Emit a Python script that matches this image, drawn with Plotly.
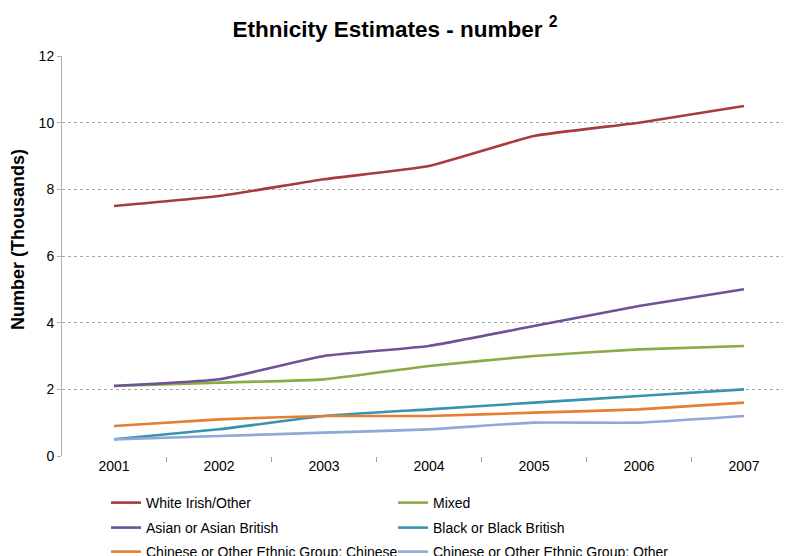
import plotly.graph_objects as go

years = ["2001", "2002", "2003", "2004", "2005", "2006", "2007"]
white_irish_other = [7.5, 7.8, 8.3, 8.7, 9.6, 10.0, 10.5]
mixed = [2.1, 2.2, 2.3, 2.7, 3.0, 3.2, 3.3]
asian = [2.1, 2.3, 3.0, 3.3, 3.9, 4.5, 5.0]
black = [0.5, 0.8, 1.2, 1.4, 1.6, 1.8, 2.0]
chinese = [0.9, 1.1, 1.2, 1.2, 1.3, 1.4, 1.6]
other = [0.5, 0.6, 0.7, 0.8, 1.0, 1.0, 1.2]

series = [
    ("White Irish/Other", white_irish_other, "#A83C3C", "legend"),
    ("Mixed", mixed, "#8BAA48", "legend"),
    ("Asian or Asian British", asian, "#6E5196", "legend2"),
    ("Black or Black British", black, "#3794AE", "legend2"),
    ("Chinese or Other Ethnic Group: Chinese", chinese, "#E57F33", "legend3"),
    ("Chinese or Other Ethnic Group: Other", other, "#8FA9D6", "legend3"),
]

FONT = "Liberation Sans, Arial, sans-serif"
# the page body adds an 8px offset, so the figure is 8px smaller than the window
W, H = 783, 548
ML, MT, MB = 54, 48, 100
PW, PH = W - ML, H - MT - MB

fig = go.Figure()
for name, vals, col, lg in series:
    fig.add_trace(go.Scatter(
        x=years, y=vals, name=name, mode="lines", legend=lg,
        line=dict(color=col, width=2.6, shape="spline", smoothing=0.4),
    ))


def row_legend(center_px):
    return dict(
        orientation="h", xref="container", yref="container",
        x=98 / W, xanchor="left",
        y=1 - center_px / H, yanchor="middle",
        font=dict(family=FONT, size=14, color="#000000"),
        entrywidth=242, entrywidthmode="pixels",
        itemwidth=30, bgcolor="rgba(0,0,0,0)", borderwidth=0,
    )


fig.update_layout(
    width=W, height=H,
    margin=dict(l=ML, r=0, t=MT, b=MB),
    paper_bgcolor="white", plot_bgcolor="white",
    font=dict(family=FONT, size=14, color="#000000"),
    title=dict(
        text="<b>Ethnicity Estimates - number <sup>2</sup></b>",
        x=(395 - 8) / W, xanchor="center", y=1 - 21 / H, yanchor="middle",
        xref="container", yref="container",
        font=dict(family=FONT, size=22.5, color="#000000"),
    ),
    showlegend=True,
    legend=row_legend(495),
    legend2=row_legend(520),
    legend3=row_legend(544),
    xaxis=dict(
        type="category", range=[-0.495, 6.448], automargin=False,
        showgrid=False, showline=False, zeroline=False,
        tickson="boundaries", ticks="outside", ticklen=5,
        tickcolor="#A0A0A0", tickwidth=1,
        tickfont=dict(family=FONT, size=14, color="#000000"),
    ),
    yaxis=dict(
        range=[0, 12], dtick=2, tick0=0, automargin=False,
        showgrid=True, gridcolor="#A8A8A8", griddash="dot", gridwidth=1,
        showline=True, linecolor="#B0B0B0", linewidth=1,
        zeroline=False,
        ticks="outside", ticklen=4, tickcolor="#B0B0B0",
        tickfont=dict(family=FONT, size=14, color="#000000"),
    ),
    annotations=[dict(
        text="<b>Number (Thousands)</b>", textangle=-90,
        xref="paper", yref="paper",
        x=(18 - 8 - ML) / PW, y=(MT + PH - (240 - 8)) / PH,
        xanchor="center", yanchor="middle", showarrow=False,
        font=dict(family=FONT, size=18, color="#000000"),
    )],
)

fig.write_html("out.html")
